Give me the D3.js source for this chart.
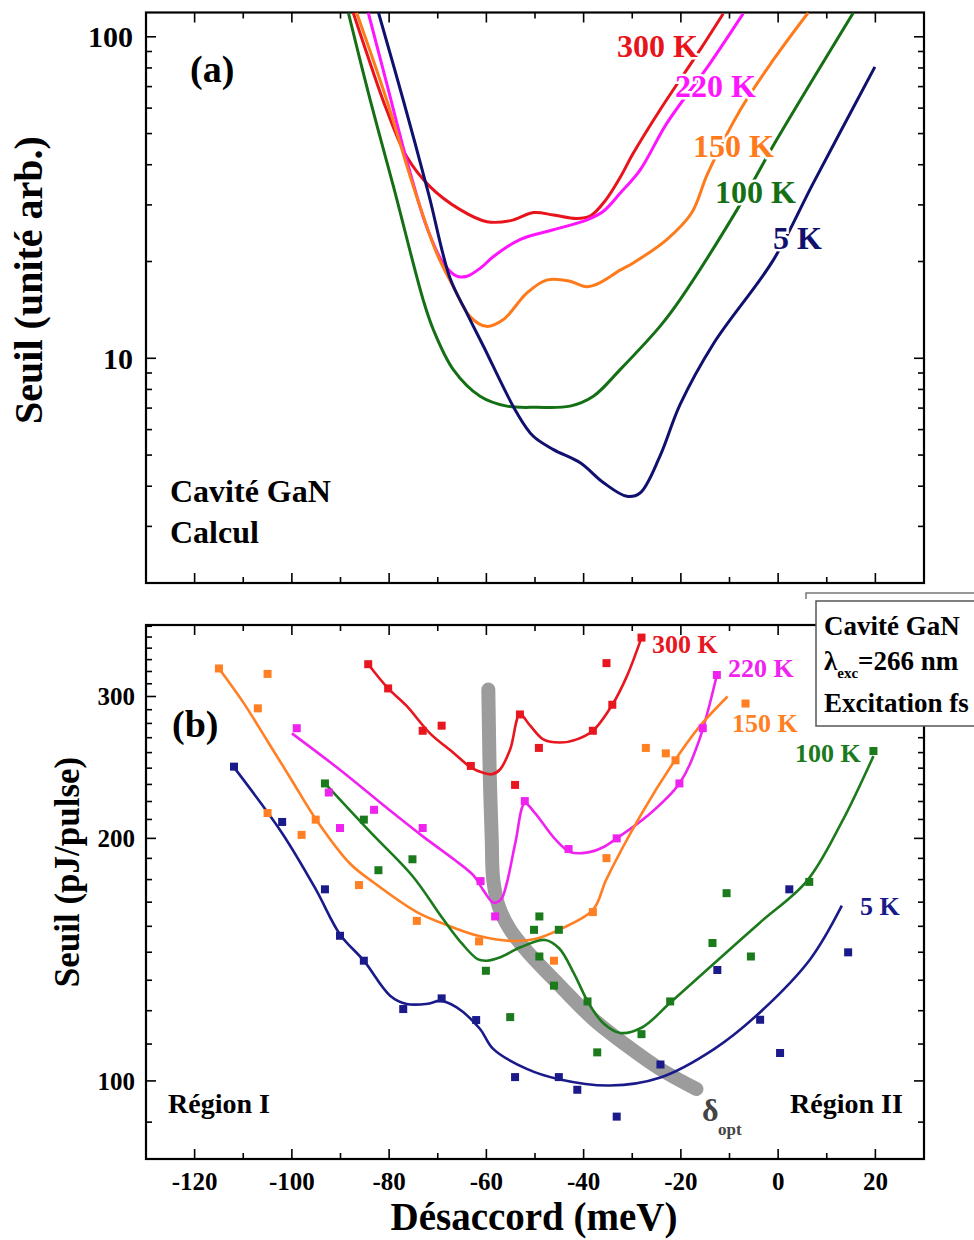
<!DOCTYPE html>
<html><head><meta charset="utf-8">
<script src="https://cdn.jsdelivr.net/npm/d3@7"></script>
<style>
body{margin:0;background:#fff;}
svg{display:block;}
text{font-family:"Liberation Serif","Times New Roman",serif;font-weight:bold;}
</style>
</head><body>
<svg id="c" width="974" height="1240"></svg>
<script>
// ---------- axis settings ----------
const xDomain = [-130, 30];
const xTickLabels = [-120, -100, -80, -60, -40, -20, 0, 20];
const xMinorTicks = [-110, -90, -70, -50, -30, -10, 10];
const yADomain = [2, 119];
const yAMajor = [10, 100];
const yAMinor = [2, 3, 4, 5, 6, 7, 8, 9, 20, 30, 40, 50, 60, 70, 80, 90];
const yBDomain = [80, 368];
const yBMajor = [100, 200, 300];

// ---------- panel (a): calculated thresholds ----------
const aRedX = [-87.4, -83.9, -80.5, -76.4, -71.6, -65.4, -59.9, -55, -50.3, -46.2, -41.4, -38.5, -35.5, -32.5, -29.8, -24.3, -16.1, -11.3];
const aRedY = [119, 82.7, 59.2, 42.4, 34.2, 29.0, 26.6, 26.8, 28.4, 27.9, 27.2, 27.8, 31, 36.5, 43.4, 59.2, 90.9, 118];
const aMagX = [-84.3, -80.5, -76.4, -72.3, -68.9, -66.1, -64, -61, -58.6, -53.1, -46.2, -39.4, -36, -32.5, -28.4, -22.9, -14, -7.2];
const aMagY = [119, 71.6, 41.4, 25.7, 19.8, 18.0, 18.0, 19.2, 20.7, 23.4, 25.1, 26.9, 28.6, 32.6, 38.5, 53.8, 82.7, 118];
const aOrX = [-86.7, -80.5, -75, -70.2, -66.8, -63.4, -60, -56.5, -51.7, -47.6, -43, -39.4, -36.6, -32.5, -29.8, -22.9, -17.8, -14.5, -7.8, -1, 6.2];
const aOrY = [119, 63.6, 34.2, 21.2, 16.7, 13.5, 12.57, 13.2, 15.95, 17.5, 17.4, 16.7, 17.2, 18.8, 19.8, 23.4, 28.3, 37.5, 59.2, 84.7, 119];
const aGrX = [-88.4, -83.9, -79.1, -73, -70.9, -66.8, -61.3, -55.8, -49.6, -42.8, -38, -32.5, -24.3, -20.2, -8.5, -0.3, 15.5];
const aGrY = [119, 63.6, 34.2, 15.2, 12.27, 9.22, 7.62, 7.10, 7.04, 7.10, 7.62, 9.22, 12.57, 15.2, 28.9, 47.8, 119];
const aNvX = [-82.2, -77.1, -71.9, -67.5, -64, -60.6, -53.8, -50.4, -46.2, -40.7, -35.9, -31.1, -28.4, -24.3, -20.2, -13.3, -1, 7.2, 19.9];
const aNvY = [119, 63.6, 32.5, 17.8, 13.8, 10.9, 6.79, 5.73, 5.2, 4.73, 4.10, 3.72, 3.81, 4.96, 7.16, 11.1, 20.2, 35, 80.6];

// ---------- panel (b): measured thresholds (points) ----------
const bRedPtX = [-84.3, -80.2, -73.1, -69.2, -63.2, -54.1, -53.1, -49.2, -38.1, -35.3, -34.1, -28.1];
const bRedPtY = [329, 307, 272, 276, 246, 233, 285, 259, 272, 330, 293, 355];
const bMagPtX = [-99.0, -92.4, -90.1, -83.1, -73.1, -61.2, -58.2, -52.1, -43.1, -33.2, -20.3, -15.5, -12.6];
const bMagPtY = [274, 228, 206, 217, 206, 177, 160, 222.5, 194, 200, 234, 274, 319];
const bOrPtX = [-115, -107, -105, -105, -98, -95.1, -86.2, -74.3, -61.5, -46.1, -38.1, -35.3, -27.2, -23.1, -21.1, -6.7];
const bOrPtY = [325, 290, 320, 215, 202, 211, 175, 158, 149, 141, 162, 189, 259, 255, 250, 294];
const bGrPtX = [-93.2, -85.2, -82.2, -75.2, -60.1, -55.1, -50.2, -49.1, -49.1, -46.1, -45.1, -39.2, -37.2, -28.1, -22.2, -13.5, -10.6, -5.6, 6.4, 19.6];
const bGrPtY = [234, 211, 182.6, 188.4, 137, 120, 154, 160, 142.7, 131.3, 154, 125.5, 108.5, 114.3, 125.5, 148.3, 171, 142.7, 176.6, 256.7];
const bNvPtX = [-111.9, -102.0, -93.2, -90.1, -85.2, -77.1, -69.2, -62.1, -54.1, -45.1, -41.3, -33.2, -24.2, -12.5, -3.7, 0.4, 2.3, 14.4];
const bNvPtY = [245.5, 209.6, 172.9, 151.4, 141, 122.8, 126.6, 119, 101.1, 101.1, 97.5, 90.3, 104.8, 137.3, 119.1, 108.3, 172.9, 144.4];

// ---------- panel (b): guide curves ----------
const bRedLnX = [-84.3, -80.2, -76.4, -71.6, -66.8, -63.2, -60.5, -58.9, -57.2, -55.1, -53.1, -51, -48.3, -44.9, -41.4, -38.1, -34.1, -31.1, -28.1];
const bRedLnY = [329, 307, 292, 270, 255.5, 245, 241, 240.2, 243.5, 258, 285, 276, 265.4, 263, 265.4, 272, 293, 318, 355];
const bMagLnX = [-100, -90, -80, -73, -66.5, -62.7, -60.5, -58.6, -57, -55.8, -54, -52.1, -50, -46, -42.8, -39.4, -36, -33.2, -27, -20.3, -16.4, -12.6];
const bMagLnY = [270, 243, 217, 201, 188, 180, 172, 166.5, 168, 176, 198, 221, 215, 200, 192.4, 192, 195, 200, 213, 234, 263, 319];
const bOrLnX = [-115, -110, -105, -100, -95, -88, -83.2, -74.3, -68, -61.7, -55.1, -50, -44.9, -38.1, -35.3, -28.4, -21.6, -16.1, -10.4];
const bOrLnY = [325, 295, 264, 236, 211, 186, 176.3, 162, 156, 151.4, 149.2, 150, 154.2, 163, 178, 213, 248, 275.6, 300];
const bGrLnX = [-93.2, -84, -75.2, -68.9, -65, -61.7, -59.9, -57, -53, -47.9, -45, -42, -39, -36, -32.5, -28, -22.2, -13.3, -3.7, 5.9, 13, 19.6];
const bGrLnY = [234, 204, 179.6, 158.8, 148, 141.5, 141, 142.5, 146.5, 149.6, 146, 136, 125, 118, 114.7, 116.5, 125, 139.7, 157.3, 177, 209, 253];
const bNvLnX = [-111.9, -102, -95.1, -90.1, -85.2, -79.8, -76.4, -72, -69.5, -66.1, -61.3, -58.6, -51.7, -45.1, -34.6, -24.2, -13.1, -3.7, 6.6, 13.1];
const bNvLnY = [245, 203, 173, 152, 141, 127.6, 124.6, 124.7, 125.7, 123.4, 116, 109.6, 103.5, 100.5, 98.7, 101, 109.6, 121.7, 141.6, 165];
// optimal detuning guide (grey band)
const optX = [-59.6, -59.5, -59.3, -58.9, -58.6, -57.5, -55.1, -51.7, -44.9, -38, -31.1, -24.3, -16.8];
const optY = [306, 280, 239, 200, 178, 165, 154, 145, 131.3, 119.3, 110.6, 103.5, 97.7];

const temps = ["300 K", "220 K", "150 K", "100 K", "5 K"];
const colA = ["#e8141c", "#ff14ff", "#ff7a1a", "#157015", "#10106e"];
const colB = ["#e8161e", "#f022f0", "#ff7f22", "#1b7a1b", "#1a1a8a"];

// ---------- drawing ----------
const svg = d3.select("#c");
const x = d3.scaleLinear().domain(xDomain).range([146, 924]);
const yA = d3.scaleLog().domain(yADomain).range([583, 12.5]);
const yB = d3.scaleLog().domain(yBDomain).range([1159, 625]);
const zip = (xs, ys) => xs.map((v, i) => [v, ys[i]]);

svg.append("rect").attr("width", 974).attr("height", 1240).attr("fill", "#fff");

const defs = svg.append("defs");
defs.append("clipPath").attr("id", "clipA").append("rect")
  .attr("x", 146).attr("y", 12.5).attr("width", 778).attr("height", 570.5);
defs.append("clipPath").attr("id", "clipB").append("rect")
  .attr("x", 146).attr("y", 625).attr("width", 778).attr("height", 534);

function frame(y, yMajor, yMinor) {
  const [y0, y1] = y.range();
  const g = svg.append("g");
  const L = 146, R = 924, M = 10, m = 6;
  const seg = (x1, y1_, x2, y2) => g.append("line").attr("x1", x1).attr("y1", y1_).attr("x2", x2).attr("y2", y2)
      .attr("stroke", "#000").attr("stroke-width", 1.6);
  xTickLabels.forEach(v => { seg(x(v), y0, x(v), y0 - M); seg(x(v), y1, x(v), y1 + M); });
  xMinorTicks.forEach(v => { seg(x(v), y0, x(v), y0 - m); seg(x(v), y1, x(v), y1 + m); });
  yMajor.forEach(v => { seg(L, y(v), L + M, y(v)); seg(R, y(v), R - M, y(v)); });
  yMinor.forEach(v => { seg(L, y(v), L + m, y(v)); seg(R, y(v), R - m, y(v)); });
  g.append("rect").attr("x", L).attr("y", y1).attr("width", R - L).attr("height", y0 - y1)
    .attr("fill", "none").attr("stroke", "#000").attr("stroke-width", 2.2);
}

const yBMinor = [];
[0, 100, 200, 300].forEach(base => { for (let k = 1; k <= 8; k++) { const v = base + k * 100 / 9; if (v > yBDomain[0] && v < yBDomain[1]) yBMinor.push(v); } });
frame(yA, yAMajor, yAMinor);
frame(yB, yBMajor, yBMinor);

// tick labels
svg.append("g").selectAll("text").data(yAMajor).join("text")
  .attr("x", 133).attr("y", d => yA(d)).attr("dy", "0.35em").attr("text-anchor", "end")
  .attr("font-size", 30).text(d => d);
svg.append("g").selectAll("text").data(yBMajor).join("text")
  .attr("x", 135).attr("y", d => yB(d)).attr("dy", "0.35em").attr("text-anchor", "end")
  .attr("font-size", 25).text(d => d);
svg.append("g").selectAll("text").data(xTickLabels).join("text")
  .attr("x", d => x(d)).attr("y", 1190).attr("text-anchor", "middle")
  .attr("font-size", 25).text(d => d);

// axis titles
svg.append("text").attr("transform", "translate(42,280) rotate(-90)").attr("text-anchor", "middle")
  .attr("font-size", 40).text("Seuil (unité arb.)");
svg.append("text").attr("transform", "translate(79,872) rotate(-90)").attr("text-anchor", "middle")
  .attr("font-size", 35).text("Seuil (pJ/pulse)");
svg.append("text").attr("x", 534).attr("y", 1230).attr("text-anchor", "middle")
  .attr("font-size", 39).text("Désaccord (meV)");

// panel a curves
const lineA = d3.line().x(d => x(d[0])).y(d => yA(d[1])).curve(d3.curveCatmullRom.alpha(0.5));
const aSeries = [zip(aRedX, aRedY), zip(aMagX, aMagY), zip(aOrX, aOrY), zip(aGrX, aGrY), zip(aNvX, aNvY)];
const gA = svg.append("g").attr("clip-path", "url(#clipA)");
aSeries.forEach((s, i) => gA.append("path").attr("d", lineA(s)).attr("fill", "none")
  .attr("stroke", colA[i]).attr("stroke-width", 3));

// panel a labels (white halo cuts the curves)
const aLab = [[617, 57], [675, 97], [693, 157], [715, 203], [773, 249]];
temps.forEach((t, i) => svg.append("text").attr("x", aLab[i][0]).attr("y", aLab[i][1])
  .attr("font-size", 32).attr("fill", colA[i]).attr("stroke", "#fff").attr("stroke-width", 5)
  .attr("paint-order", "stroke").text(t));
svg.append("text").attr("x", 190).attr("y", 82).attr("font-size", 38).text("(a)");
svg.append("text").attr("x", 170).attr("y", 502).attr("font-size", 32).text("Cavité GaN");
svg.append("text").attr("x", 170).attr("y", 543).attr("font-size", 32).text("Calcul");

// panel b
const lineB = d3.line().x(d => x(d[0])).y(d => yB(d[1])).curve(d3.curveCatmullRom.alpha(0.5));
const gB = svg.append("g").attr("clip-path", "url(#clipB)");
gB.append("path").attr("d", lineB(zip(optX, optY))).attr("fill", "none")
  .attr("stroke", "#9c9c9c").attr("stroke-width", 14).attr("stroke-linecap", "round");
const bLines = [zip(bRedLnX, bRedLnY), zip(bMagLnX, bMagLnY), zip(bOrLnX, bOrLnY), zip(bGrLnX, bGrLnY), zip(bNvLnX, bNvLnY)];
const bPts = [zip(bRedPtX, bRedPtY), zip(bMagPtX, bMagPtY), zip(bOrPtX, bOrPtY), zip(bGrPtX, bGrPtY), zip(bNvPtX, bNvPtY)];
bLines.forEach((s, i) => gB.append("path").attr("d", lineB(s)).attr("fill", "none")
  .attr("stroke", colB[i]).attr("stroke-width", 2.6));
const sq = 8;
bPts.forEach((s, i) => gB.append("g").selectAll("rect").data(s).join("rect")
  .attr("x", d => x(d[0]) - sq / 2).attr("y", d => yB(d[1]) - sq / 2)
  .attr("width", sq).attr("height", sq).attr("fill", colB[i]));

const bLab = [[652, 653], [728, 677], [732, 732], [795, 762], [860, 915]];
temps.forEach((t, i) => svg.append("text").attr("x", bLab[i][0]).attr("y", bLab[i][1])
  .attr("font-size", 26).attr("fill", colB[i]).text(t));
svg.append("text").attr("x", 172).attr("y", 737).attr("font-size", 38).text("(b)");
svg.append("text").attr("x", 168).attr("y", 1113).attr("font-size", 28).text("Région I");
svg.append("text").attr("x", 790).attr("y", 1113).attr("font-size", 28).text("Région II");
svg.append("text").attr("x", 702).attr("y", 1121).attr("font-size", 32).attr("font-weight", "normal")
  .attr("fill", "#444").text("δ");
svg.append("text").attr("x", 718).attr("y", 1135).attr("font-size", 17).attr("fill", "#444").text("opt");

// info box
svg.append("path").attr("d", "M806,599 V593 H974").attr("fill", "none").attr("stroke", "#777").attr("stroke-width", 1.5);
svg.append("rect").attr("x", 816).attr("y", 601).attr("width", 170).attr("height", 125)
  .attr("fill", "#fff").attr("stroke", "#555").attr("stroke-width", 1.5);
svg.append("text").attr("x", 824).attr("y", 635).attr("font-size", 27).text("Cavité GaN");
const lt = svg.append("text").attr("x", 824).attr("y", 670).attr("font-size", 27);
lt.append("tspan").text("λ");
lt.append("tspan").attr("font-size", 15).attr("dy", 8).text("exc");
lt.append("tspan").attr("dy", -8).text("=266 nm");
svg.append("text").attr("x", 824).attr("y", 712).attr("font-size", 27).text("Excitation fs");
</script>
</body></html>
